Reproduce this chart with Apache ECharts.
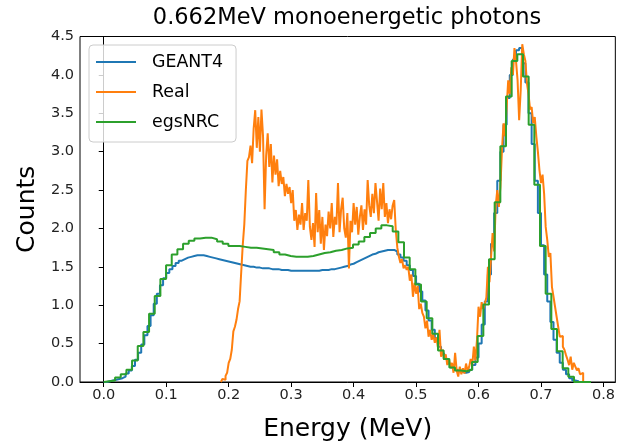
<!DOCTYPE html>
<html>
<head>
<meta charset="utf-8">
<script src="https://cdn.jsdelivr.net/npm/echarts@6/dist/echarts.min.js"></script>
<style>
html, body { margin: 0; padding: 0; background: #fff; }
#chart { width: 618px; height: 447px; }
</style>
</head>
<body>
<div id="chart"></div>
<script>
// histogram bins: start edge, bin width, counts per bin
var geantStart = 0, geantWidth = 0.005;
var geantCounts = [
  0.00,0.01,0.02,0.03,0.04,0.05,0.07,0.11,0.15,0.21,
  0.29,0.38,0.49,0.61,0.73,0.87,1.02,1.15,1.26,1.35,
  1.42,1.47,1.51,1.55,1.58,1.60,1.62,1.63,1.64,1.65,
  1.65,1.65,1.64,1.63,1.62,1.61,1.60,1.59,1.58,1.57,
  1.56,1.55,1.54,1.53,1.52,1.51,1.50,1.50,1.49,1.49,
  1.48,1.48,1.48,1.47,1.47,1.47,1.46,1.46,1.46,1.45,
  1.45,1.45,1.45,1.45,1.45,1.45,1.45,1.45,1.45,1.46,
  1.46,1.46,1.47,1.47,1.48,1.49,1.50,1.51,1.53,1.54,
  1.56,1.58,1.60,1.62,1.64,1.66,1.67,1.69,1.70,1.71,
  1.72,1.72,1.72,1.70,1.66,1.62,1.58,1.52,1.46,1.38,
  1.28,1.18,1.06,0.93,0.80,0.68,0.57,0.46,0.37,0.30,
  0.24,0.19,0.16,0.14,0.13,0.12,0.13,0.16,0.22,0.32,
  0.50,0.75,1.05,1.40,1.80,2.20,2.62,3.00,3.35,3.70,
  4.00,4.20,4.32,4.35,4.15,3.90,3.50,3.10,2.62,2.20,
  1.78,1.40,1.05,0.78,0.55,0.38,0.25,0.16,0.10,0.05,
  0.02,0.01
];

var realStart = 0.1875, realWidth = 0.0025;
var realCounts = [
  0.02,0.04,0.03,0.08,0.12,0.25,0.30,0.42,0.66,0.72,
  0.81,0.95,1.05,1.42,1.78,2.05,2.50,2.88,2.93,3.08,
  2.85,3.30,3.54,3.05,3.45,3.00,3.55,3.20,2.25,2.95,
  3.24,2.80,3.10,2.60,2.95,2.70,2.90,2.55,2.75,2.58,
  2.67,2.42,2.58,2.45,2.54,2.33,2.50,2.10,2.24,1.98,
  2.18,2.05,2.33,1.98,2.20,2.10,2.63,2.02,1.85,2.07,
  1.76,2.46,1.95,2.24,1.80,2.15,1.72,2.05,1.90,2.22,
  2.00,2.33,1.89,2.15,2.05,2.59,1.95,2.25,2.40,2.00,
  1.88,2.20,1.48,2.10,1.95,2.33,2.05,2.28,1.92,2.15,
  2.30,1.98,2.25,2.05,2.63,2.30,2.15,2.45,2.20,2.59,
  2.35,2.10,2.52,2.25,2.59,2.15,2.33,2.07,2.25,2.12,
  2.30,2.37,1.98,1.75,1.63,1.55,1.60,1.48,1.52,1.46,
  1.50,1.32,1.40,1.11,1.29,1.15,1.25,0.95,1.02,0.90,
  0.85,0.70,0.80,0.59,0.68,0.55,0.62,0.51,0.58,0.45,
  0.68,0.33,0.42,0.29,0.36,0.22,0.30,0.20,0.25,0.12,
  0.38,0.15,0.07,0.20,0.10,0.18,0.11,0.24,0.14,0.20,
  0.30,0.22,0.46,0.28,0.55,0.98,0.85,1.04,0.95,1.02,
  1.10,1.50,1.30,1.62,1.94,1.70,2.30,2.50,2.28,2.54,
  3.02,3.37,3.20,3.58,3.93,3.75,4.10,4.00,4.35,4.18,
  3.93,3.41,3.80,4.40,4.27,4.18,3.89,3.75,3.55,3.58,
  3.37,3.45,3.20,3.00,2.76,2.59,2.70,2.45,2.02,1.85,
  1.63,1.68,1.24,1.11,0.98,0.85,0.72,0.59,0.60,0.46,
  0.42,0.35,0.29,0.22,0.33,0.16,0.25,0.20,0.15,0.18,
  0.10,0.12
];

var egsStart = 0, egsWidth = 0.00907;
var egsCounts = [
  0.01,0.02,0.06,0.10,0.16,0.28,0.47,0.65,0.89,1.12,
  1.34,1.52,1.66,1.73,1.80,1.84,1.87,1.88,1.88,1.86,
  1.83,1.80,1.77,1.77,1.76,1.75,1.75,1.74,1.73,1.72,
  1.69,1.66,1.64,1.63,1.63,1.63,1.64,1.66,1.68,1.69,
  1.71,1.72,1.74,1.75,1.79,1.83,1.89,1.94,2.00,2.04,
  2.03,1.96,1.82,1.62,1.47,1.27,1.05,0.83,0.63,0.41,
  0.30,0.19,0.15,0.14,0.16,0.26,0.60,1.01,1.60,2.34,
  3.07,3.72,4.18,4.27,3.98,3.35,2.57,1.77,1.15,0.69,
  0.40,0.18,0.07,0,0,0
];

var xTicks = [0, 0.1, 0.2, 0.3, 0.4, 0.5, 0.6, 0.7, 0.8];
var font = 'DejaVu Sans';

// outline of a step histogram
function steps(start, width, counts) {
  var pts = [[start, 0]];
  for (var i = 0; i < counts.length; i++) {
    pts.push([start + i * width, counts[i]]);
  }
  var end = start + counts.length * width;
  pts.push([end, counts[counts.length - 1]]);
  pts.push([end, 0]);
  return pts;
}

function histSeries(name, color, pts) {
  return {
    name: name,
    type: 'line',
    step: 'end',
    symbol: 'none',
    data: pts,
    lineStyle: { color: color, width: 2 },
    itemStyle: { color: color }
  };
}

var myChart = echarts.init(document.getElementById('chart'));
var option = {
  animation: false,
  backgroundColor: '#fff',
  title: {
    text: '0.662MeV monoenergetic photons',
    left: 347,
    top: 7,
    padding: 0,
    textAlign: 'center',
    textStyle: { fontFamily: font, fontSize: 22.5, fontWeight: 'normal', color: '#000' }
  },
  legend: {
    orient: 'vertical',
    left: 89,
    top: 45,
    padding: [7, 13, 10, 7],
    itemWidth: 40,
    itemHeight: 2,
    itemGap: 10,
    icon: 'rect',
    backgroundColor: 'rgba(255,255,255,0.8)',
    borderColor: '#cccccc',
    borderWidth: 1,
    borderRadius: 4,
    textStyle: { fontFamily: font, fontSize: 17.4, color: '#000', lineHeight: 20, padding: [0, 0, 0, 11] },
    data: ['GEANT4', 'Real', 'egsNRC']
  },
  grid: {
    left: 80, right: 2, top: 36.5, bottom: 65,
    show: true, borderColor: '#000', borderWidth: 1, backgroundColor: 'transparent'
  },
  xAxis: {
    type: 'value',
    min: -0.038,
    max: 0.819,
    name: 'Energy (MeV)',
    nameLocation: 'middle',
    nameGap: 35,
    nameTextStyle: { fontFamily: font, fontSize: 25, color: '#000' },
    axisLine: { show: true, onZero: false, lineStyle: { color: '#000', width: 1 } },
    axisTick: { show: true, length: 5, customValues: xTicks, lineStyle: { color: '#000' } },
    axisLabel: {
      customValues: xTicks, margin: 6,
      fontFamily: font, fontSize: 14.5, color: '#222',
      formatter: function (v) { return v.toFixed(1); }
    },
    splitLine: { show: false }
  },
  yAxis: {
    type: 'value',
    min: 0,
    max: 4.5,
    interval: 0.5,
    name: 'Counts',
    nameLocation: 'middle',
    nameGap: 36,
    nameTextStyle: { fontFamily: font, fontSize: 25, color: '#000' },
    axisLine: { show: true, lineStyle: { color: '#000', width: 1 } },
    axisTick: { show: true, length: 5, lineStyle: { color: '#000' } },
    axisLabel: {
      margin: 6,
      fontFamily: font, fontSize: 14.5, color: '#222',
      formatter: function (v) { return v.toFixed(1); }
    },
    splitLine: { show: false }
  },
  series: [
    histSeries('GEANT4', '#1f77b4', steps(geantStart, geantWidth, geantCounts)),
    histSeries('Real', '#ff7f0e', steps(realStart, realWidth, realCounts)),
    histSeries('egsNRC', '#2ca02c', steps(egsStart, egsWidth, egsCounts))
  ]
};
myChart.setOption(option);
</script>
</body>
</html>
